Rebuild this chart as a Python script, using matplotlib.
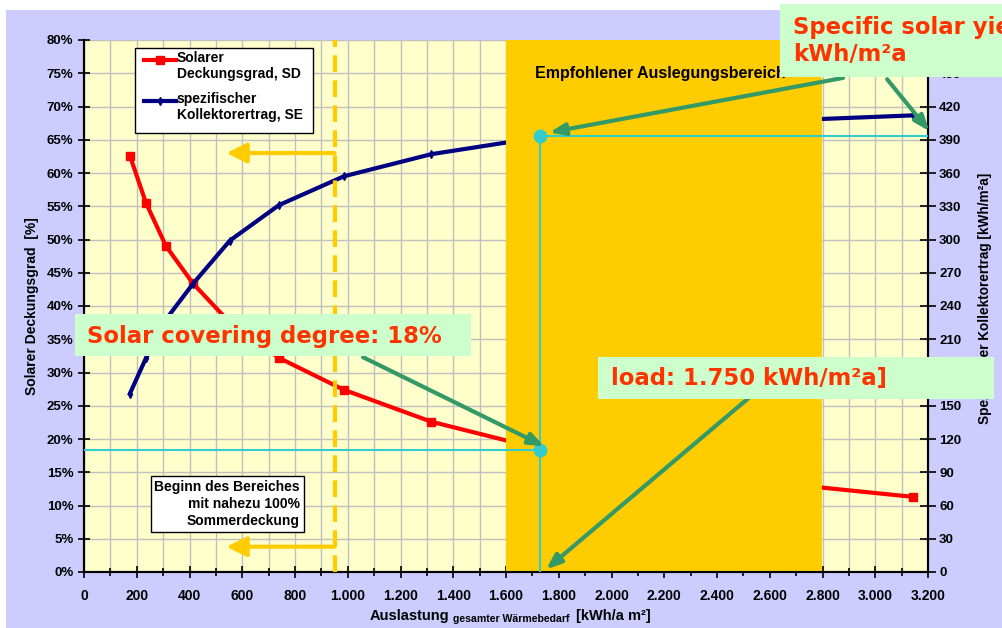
import numpy as np
import matplotlib
matplotlib.use('Agg')
import matplotlib.pyplot as plt
from matplotlib.patches import Rectangle
from matplotlib.ticker import FuncFormatter, MultipleLocator

# Auslastung (gesamter Waermebedarf) [kWh/a m2]
load = [174, 235, 311, 413, 553, 739, 985, 1317, 1750, 2400, 3143]
# solarer Deckungsgrad SD [%]
sd = [62.6, 55.5, 49.0, 43.4, 37.5, 32.2, 27.4, 22.6, 18.3, 14.3, 11.3]
# spezifischer Kollektorertrag SE [kWh/m2a]
se = [161, 193, 228, 260, 299, 331, 357, 377, 393, 405, 412]

design_range = (1600, 2800)
summer_start = 950
chosen_load = 1730
chosen_sd = 18.3
chosen_se = 393

plt.rcParams['font.family'] = ['Liberation Sans', 'DejaVu Sans']
plt.rcParams['font.weight'] = 'bold'

fig = plt.figure(figsize=(10.02, 6.28), dpi=100, facecolor='white')
fig.add_artist(Rectangle((6 / 1002, 0), 1, 618 / 628, transform=fig.transFigure,
                         facecolor='#CCCCFF', edgecolor='none', zorder=-10))

ax = fig.add_axes([84 / 1002, 56 / 628, 844 / 1002, 532 / 628])
ax.set_facecolor('#FFFFCC')
ax2 = ax.twinx()

ax.set_xlim(0, 3200)
ax.set_ylim(0, 80)
ax2.set_ylim(0, 480)

ax.xaxis.set_major_locator(MultipleLocator(200))
ax.xaxis.set_minor_locator(MultipleLocator(100))
ax.yaxis.set_major_locator(MultipleLocator(5))
ax2.yaxis.set_major_locator(MultipleLocator(30))
ax.xaxis.set_major_formatter(FuncFormatter(lambda v, p: f'{int(v):,}'.replace(',', '.')))
ax.yaxis.set_major_formatter(FuncFormatter(lambda v, p: f'{int(v)}%'))

ax.grid(True, which='both', axis='x', color='#C0C0C0', lw=1)
ax.grid(True, which='major', axis='y', color='#C0C0C0', lw=1)
ax.set_axisbelow(True)

for a in (ax, ax2):
    a.spines['top'].set_visible(False)
    for s in ('left', 'bottom', 'right'):
        a.spines[s].set_linewidth(1.5)
ax.tick_params(axis='y', which='major', direction='inout', length=8, width=1.2, labelsize=9.5)
ax.tick_params(axis='x', which='major', direction='inout', length=8, width=1.2, labelsize=10, pad=8)
ax.tick_params(axis='x', which='minor', direction='inout', length=6, width=1.2)
ax2.tick_params(axis='y', direction='inout', length=12, width=1.2, labelsize=9.5, pad=2)

# curves
ax.plot(load, sd, color='#FF0000', lw=3, marker='s', ms=6, zorder=2)
ax2.plot(load, se, color='#000080', lw=3, marker='d', ms=4, zorder=1)

# recommended design range (covers the curves)
ax2.axvspan(*design_range, color='#FFCC00', zorder=2, lw=0)
ax2.text(1710, 75.0, 'Empfohlener Auslegungsbereich', transform=ax.transData,
         fontsize=11.5, fontweight='bold', va='center', zorder=4)

# start of near 100% summer coverage
ax2.axvline(summer_start, color='#FFCC00', lw=3, ls=(0, (4, 2)), zorder=3)
for yv in (63.0, 3.8):
    ax2.annotate('', xy=(540, yv), xytext=(summer_start, yv), xycoords=ax.transData,
                 textcoords=ax.transData,
                 arrowprops=dict(arrowstyle='-|>,head_length=1.2,head_width=0.6',
                                 color='#FFCC00', lw=3, shrinkA=0, shrinkB=0), zorder=3)
ax2.text(0.256, 0.128, 'Beginn des Bereiches\nmit nahezu 100%\nSommerdeckung',
         transform=ax.transAxes, ha='right', va='center', multialignment='right',
         fontsize=10, fontweight='bold', linespacing=1.3, zorder=5,
         bbox=dict(boxstyle='square,pad=0.25', facecolor='white', edgecolor='black', lw=1))

# reading lines for the chosen load
cyan = '#33CCCC'
ax2.plot([0, chosen_load], [chosen_sd, chosen_sd], color=cyan, lw=1.5, transform=ax.transData, zorder=5)
ax2.plot([chosen_load, chosen_load], [0, chosen_se / 6], color=cyan, lw=1.5, transform=ax.transData, zorder=5)
ax2.plot([chosen_load, 3200], [chosen_se, chosen_se], color=cyan, lw=1.5, zorder=5)
ax2.plot([chosen_load, chosen_load], [chosen_sd * 6, chosen_se], ls='none', marker='o', ms=9,
         color=cyan, zorder=6)

# green pointer arrows
green = '#339966'
arrows = [((2878, 74.3), (1765, 66.1)),
          ((3045, 74.1), (3205, 66.3)),
          ((1058, 32.3), (1745, 18.9)),
          ((2521, 26.2), (1752, 0.4))]
for start, end in arrows:
    ax2.annotate('', xy=end, xytext=start, xycoords=ax.transData, textcoords=ax.transData,
                 annotation_clip=False,
                 arrowprops=dict(arrowstyle='-|>,head_length=0.9,head_width=0.35',
                                 color=green, lw=3, shrinkA=0, shrinkB=0), zorder=7)

# legend (drawn by hand: handle sits on the first text line, like the original)
def fx(px):
    return (px - 84) / 844


def fy(py):
    return (572 - py) / 532


ax2.add_patch(Rectangle((fx(135), fy(133)), fx(313) - fx(135), fy(48) - fy(133),
                        transform=ax.transAxes, facecolor='white', edgecolor='black',
                        lw=1, zorder=8))
legend_items = [('#FF0000', 's', 6, 60, 'Solarer\nDeckungsgrad, SD'),
                ('#000080', 'd', 4, 101, 'spezifischer\nKollektorertrag, SE')]
for col, mk, size, py, label in legend_items:
    ax2.plot([fx(144), fx(176)], [fy(py), fy(py)], color=col, lw=3, transform=ax.transAxes,
             zorder=9, clip_on=False)
    ax2.plot([fx(160)], [fy(py)], color=col, marker=mk, ms=size, transform=ax.transAxes,
             zorder=9, clip_on=False)
    ax2.text(fx(177), fy(py - 9), label, transform=ax.transAxes, ha='left', va='top',
             fontsize=10, fontweight='bold', linespacing=1.2, zorder=9)

# axis titles
fig.text(32 / 1002, 1 - 306 / 628, 'Solarer Deckungsgrad  [%]', rotation=90,
         ha='center', va='center', fontsize=10, fontweight='bold')
fig.text(985 / 1002, 1 - 298 / 628, 'Spezifischer Kollektorertrag [kWh/m²a]', rotation=90,
         ha='center', va='center', fontsize=9.8, fontweight='bold')
fig.text(370 / 1002, 1 - 620 / 628, 'Auslastung', ha='left', va='baseline', fontsize=10.5, fontweight='bold')
fig.text(453 / 1002, 1 - 622 / 628, 'gesamter Wärmebedarf', ha='left', va='baseline', fontsize=7.6, fontweight='bold')
fig.text(576 / 1002, 1 - 620 / 628, '[kWh/a m²]', ha='left', va='baseline', fontsize=10.5, fontweight='bold')

# highlighted call-outs
box_kw = dict(transform=fig.transFigure, facecolor='#CCFFCC', edgecolor='none', zorder=20)
fig.add_artist(Rectangle((75 / 1002, 1 - 356 / 628), 396 / 1002, 42 / 628, **box_kw))
fig.add_artist(Rectangle((780 / 1002, 1 - 77 / 628), 240 / 1002, 73 / 628, **box_kw))
fig.add_artist(Rectangle((598 / 1002, 1 - 399 / 628), 396 / 1002, 42 / 628, **box_kw))
call_kw = dict(color='#FF3300', fontsize=16.4, fontweight='bold', family='DejaVu Sans',
               ha='left', va='center', zorder=21)
fig.text(87 / 1002, 1 - 336 / 628, 'Solar covering degree: 18%', **call_kw)
fig.text(793 / 1002, 1 - 41 / 628, 'Specific solar yield: 390\nkWh/m²a', linespacing=1.2, **call_kw)
fig.text(611 / 1002, 1 - 379 / 628, 'load: 1.750 kWh/m²a]', **call_kw)

fig.savefig('out.png', dpi=100, facecolor=fig.get_facecolor())
